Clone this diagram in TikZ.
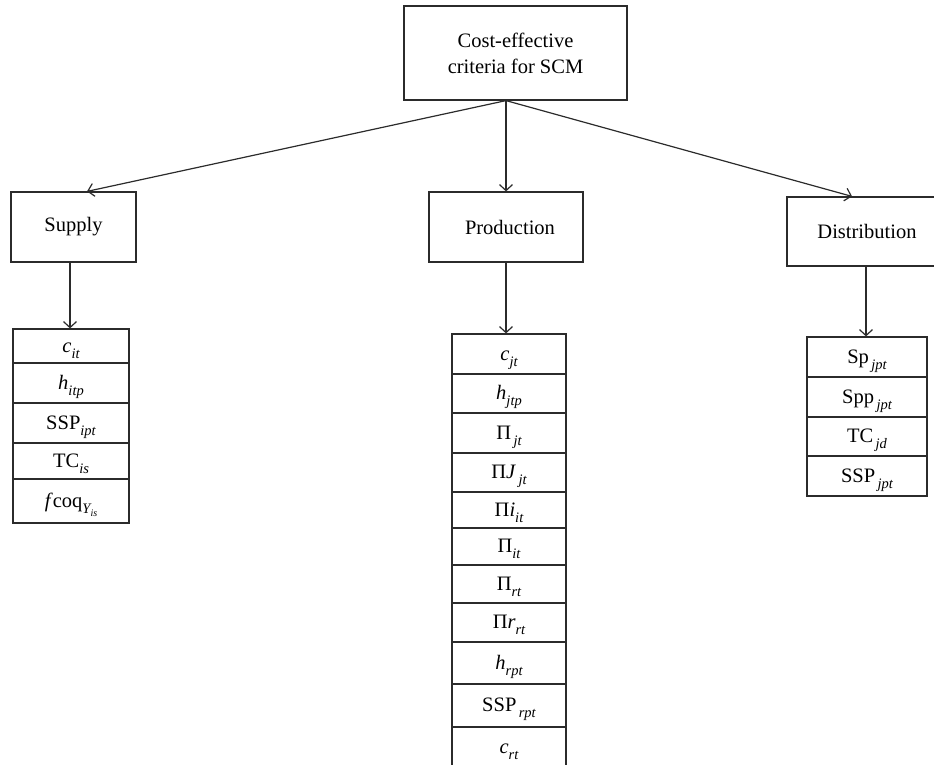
\documentclass[tikz,border=0pt]{standalone}
\usepackage{fontspec}
\setmainfont{Liberation Serif}
\usetikzlibrary{arrows.meta}
\definecolor{ln}{HTML}{2B2B2B}
\newcommand{\lsub}[1]{\raisebox{-0.3em}{\fontsize{14.5}{14.5}\selectfont\itshape #1}}
\newcommand{\lssub}[1]{\raisebox{-0.22em}{\fontsize{10}{10}\selectfont\itshape #1}}
\begin{document}
\begin{tikzpicture}[x=1pt,y=-1pt,
  box/.style={draw=ln, line width=1.2pt, inner sep=0pt, align=center, font=\fontsize{20.5}{26}\selectfont},
  cell/.style={draw=ln, line width=1.2pt, inner sep=0pt, minimum width=#1, text height=15pt, text depth=3pt, font=\fontsize{20.5}{24}\selectfont},
  arr/.style={draw=ln, line width=1.2pt, -{Straight Barb[length=6pt,width=13pt]}}]
\useasboundingbox (0,0) rectangle (934,765);
% top-level boxes
\node[box, minimum width=223pt, minimum height=94pt] (top) at (515.5,53) {Cost-effective\\criteria for SCM};
\node[box, minimum width=125pt, minimum height=70pt] (supply) at (73.5,227) {Supply};
\node[box, minimum width=154pt, minimum height=70pt] (prod) at (506,227) {\hspace*{8pt}Production};
\node[box, minimum width=160pt, minimum height=69pt] (dist) at (867,231.5) {Distribution};
% supply list
\node[cell=116pt, minimum height=34pt] (s1) at (71,346) {\textit{c}\lsub{it}};
\node[cell=116pt, minimum height=40pt] (s2) at (71,383) {\textit{h}\lsub{itp}};
\node[cell=116pt, minimum height=40pt] (s3) at (71,423) {SSP\lsub{ipt}};
\node[cell=116pt, minimum height=36pt] (s4) at (71,461) {TC\lsub{is}};
\node[cell=116pt, minimum height=44pt] (s5) at (71,501) {\textit{f}coq\lsub{Y\lssub{is}}};
% production list
\node[cell=114pt, minimum height=40pt] (p1) at (509,354) {\textit{c}\lsub{jt}};
\node[cell=114pt, minimum height=39pt] (p2) at (509,393.5) {\textit{h}\lsub{jtp}};
\node[cell=114pt, minimum height=40pt] (p3) at (509,433) {Π\lsub{\,jt}};
\node[cell=114pt, minimum height=39pt] (p4) at (509,472.5) {Π\textit{J}\lsub{\,jt}};
\node[cell=114pt, minimum height=36pt] (p5) at (509,510) {Π\textit{i}\lsub{it}};
\node[cell=114pt, minimum height=37pt] (p6) at (509,546.5) {Π\lsub{it}};
\node[cell=114pt, minimum height=38pt] (p7) at (509,584) {Π\lsub{rt}};
\node[cell=114pt, minimum height=39pt] (p8) at (509,622.5) {Π\textit{r}\lsub{rt}};
\node[cell=114pt, minimum height=42pt] (p9) at (509,663) {\textit{h}\lsub{rpt}};
\node[cell=114pt, minimum height=43pt] (p10) at (509,705.5) {SSP\lsub{\,rpt}};
\node[cell=114pt, minimum height=40pt] (p11) at (509,747) {\textit{c}\lsub{rt}};
% distribution list
\node[cell=120pt, minimum height=40pt] (d1) at (867,357) {Sp\lsub{\,jpt}};
\node[cell=120pt, minimum height=40pt] (d2) at (867,397) {Spp\lsub{\,jpt}};
\node[cell=120pt, minimum height=39pt] (d3) at (867,436.5) {TC\lsub{\,jd}};
\node[cell=120pt, minimum height=40pt] (d4) at (867,476) {SSP\lsub{\,jpt}};
% connectors
\coordinate (src) at ([xshift=-9.5pt]top.south);
\draw[arr] (src) -- ([xshift=13.5pt]supply.north);
\draw[arr] (src) -- (prod.north);
\draw[arr] (src) -- ([xshift=-15pt]dist.north);
\draw[arr] ([xshift=-3.5pt]supply.south) -- ([xshift=-3.5pt]supply.south |- s1.north);
\draw[arr] (prod.south) -- (prod.south |- p1.north);
\draw[arr] ([xshift=-1pt]dist.south) -- ([xshift=-1pt]dist.south |- d1.north);
\end{tikzpicture}
\end{document}
